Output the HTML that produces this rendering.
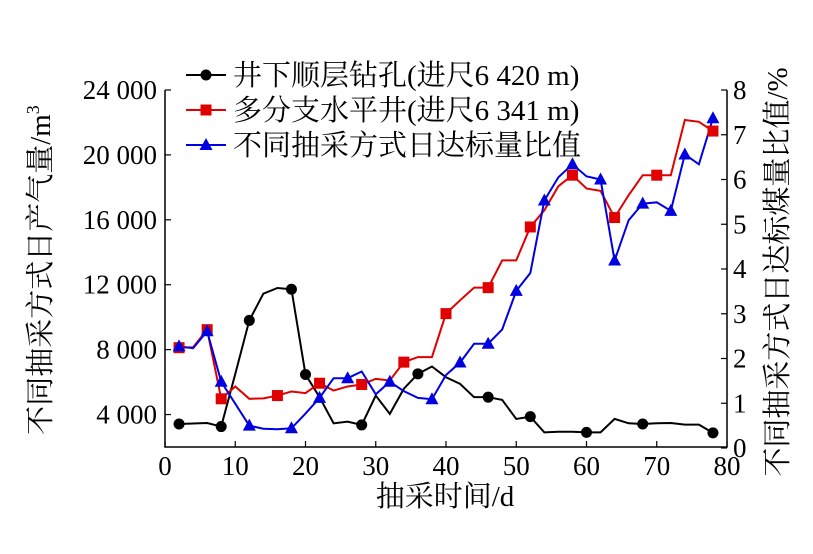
<!DOCTYPE html>
<html><head><meta charset="utf-8"><style>
body{margin:0;background:#fff;}
svg text{font-family:"Liberation Serif","Noto Serif CJK SC","Noto Sans CJK SC",serif;fill:#000;}
</style></head><body>
<svg id="chart" width="813" height="549" xmlns="http://www.w3.org/2000/svg"></svg>
<script>
const days = [2,4,6,8,10,12,14,16,18,20,22,24,26,28,30,32,34,36,38,40,42,44,46,48,50,52,54,56,58,60,62,64,66,68,70,72,74,76,78];
const wellBoreholeGas = [3420,3450,3480,3260,6500,9800,11450,11800,11720,6470,5070,3460,3560,3360,5170,4040,5590,6510,6960,6300,5890,5070,5070,4900,3730,3870,2900,2940,2940,2900,2900,3730,3460,3420,3460,3480,3380,3380,2870];
const horizontalWellGas = [8120,8150,9230,4970,5730,4970,5000,5170,5420,5320,5930,5480,5730,5850,6200,6100,7230,7540,7540,10220,11040,11820,11820,13500,13500,15560,16590,18070,18750,17930,17780,16140,17520,18750,18750,18750,22150,22040,21470];
const ratioValues = [2.27,2.23,2.61,1.48,0.99,0.50,0.43,0.42,0.44,0.77,1.12,1.56,1.56,1.71,1.20,1.48,1.27,1.12,1.09,1.63,1.91,2.33,2.33,2.65,3.51,3.91,5.53,6.05,6.34,6.07,6.00,4.19,5.09,5.46,5.49,5.30,6.56,6.34,7.37];
const blackMarkers = [2,8,12,18,20,28,36,46,52,60,68,78];
const redMarkers = [2,6,8,16,22,28,34,40,46,52,58,64,70,78];
const blueMarkers = [2,6,8,12,18,22,26,32,38,42,46,50,54,58,62,64,68,72,74,78];
const xTicks = [0,10,20,30,40,50,60,70,80];
const leftTicks = [4000,8000,12000,16000,20000,24000];
const leftTickLabels = ["4 000","8 000","12 000","16 000","20 000","24 000"];
const rightTicks = [0,1,2,3,4,5,6,7,8];

const NS="http://www.w3.org/2000/svg";
const svg=document.getElementById('chart');
const X0=165,X1=727,YB=447,YT=90;
const xs=v=>X0+(v/80)*(X1-X0);
const yl=v=>YB-(v-2000)/22000*(YB-YT);
const yr=v=>448-v/8*(448-YT);
function el(tag,attrs,parent){const e=document.createElementNS(NS,tag);for(const k in attrs)e.setAttribute(k,attrs[k]);(parent||svg).appendChild(e);return e;}

const frame=el('polyline',{points:`${X0},${YT} ${X0},${YB} ${X1},${YB} ${X1},${YT}`,fill:'none',stroke:'#000','stroke-width':1.5});



xTicks.forEach(t=>{
  const l=el('line',{x1:xs(t),x2:xs(t),y1:YB,y2:YB-6,stroke:'#000','stroke-width':1.2});
  
  
  const tx=el('text',{x:xs(t),y:YB+28,'text-anchor':'middle','font-size':27});
  tx.textContent=t;
  
  
});
leftTicks.forEach((t,i)=>{
  const l=el('line',{x1:X0,x2:X0+6,y1:yl(t),y2:yl(t),stroke:'#000','stroke-width':1.2});
  
  
  const tx=el('text',{x:X0-8,y:yl(t)+9,'text-anchor':'end','font-size':27});
  tx.textContent=leftTickLabels[i];
  
  
});
rightTicks.forEach(t=>{
  const l=el('line',{x1:X1,x2:X1-6,y1:yr(t),y2:yr(t),stroke:'#000','stroke-width':1.2});
  
  
  const tx=el('text',{x:X1+6,y:yr(t)+9,'text-anchor':'start','font-size':27});
  tx.textContent=t;
  
  
});

function series(vals,yf,color,name){
  const p=el('polyline',{points:days.map((d,i)=>xs(d)+','+yf(vals[i])).join(' '),fill:'none',stroke:color,'stroke-width':2});
  
  
}
series(wellBoreholeGas,yl,'#000','borehole-gas');
series(horizontalWellGas,yl,'#e00000','horizontal-well-gas');
series(ratioValues,yr,'#0000e0','ratio');

function circle(x,y,p){return el('circle',{cx:x,cy:y,r:5.5,fill:'#000'},p);}
function square(x,y,p){return el('rect',{x:x-5.5,y:y-5.5,width:11,height:11,fill:'#e00000'},p);}
function tri(x,y,p){return el('polygon',{points:`${x},${y-7} ${x-6.5},${y+5} ${x+6.5},${y+5}`,fill:'#0000e0'},p);}
blackMarkers.forEach(d=>{const i=days.indexOf(d);const m=circle(xs(d),yl(wellBoreholeGas[i]));
  
  });
redMarkers.forEach(d=>{const i=days.indexOf(d);const m=square(xs(d),yl(horizontalWellGas[i]));
  
  });
blueMarkers.forEach(d=>{const i=days.indexOf(d);const m=tri(xs(d),yr(ratioValues[i]));
  
  });

const legend=[['#000',circle,'井下顺层钻孔(进尺6 420 m)','legend-borehole'],['#e00000',square,'多分支水平井(进尺6 341 m)','legend-horizontal-well'],['#0000e0',tri,'不同抽采方式日达标量比值','legend-ratio']];
legend.forEach((L,i)=>{
  const g=el('g',{});
  
  
  const y=75+i*35;
  el('line',{x1:186,x2:226,y1:y,y2:y,stroke:L[0],'stroke-width':2},g);
  L[1](206,y,g);
  const t=el('text',{x:233,y:y+10,'font-size':29},g);
  t.textContent=L[2];
});

const xt=el('text',{x:445,y:506,'text-anchor':'middle','font-size':29});
xt.textContent='抽采时间/d';


const lt=el('text',{x:0,y:0,'text-anchor':'middle','font-size':29,transform:'translate(50,270) rotate(-90)'});
lt.innerHTML='不同抽采方式日产气量/m<tspan dy="-11" font-size="18">3</tspan>';


const rt=el('text',{x:0,y:0,'text-anchor':'middle','font-size':29,transform:'translate(787,272) rotate(-90)'});
rt.textContent='不同抽采方式日达标煤量比值/%';


</script>
</body></html>
